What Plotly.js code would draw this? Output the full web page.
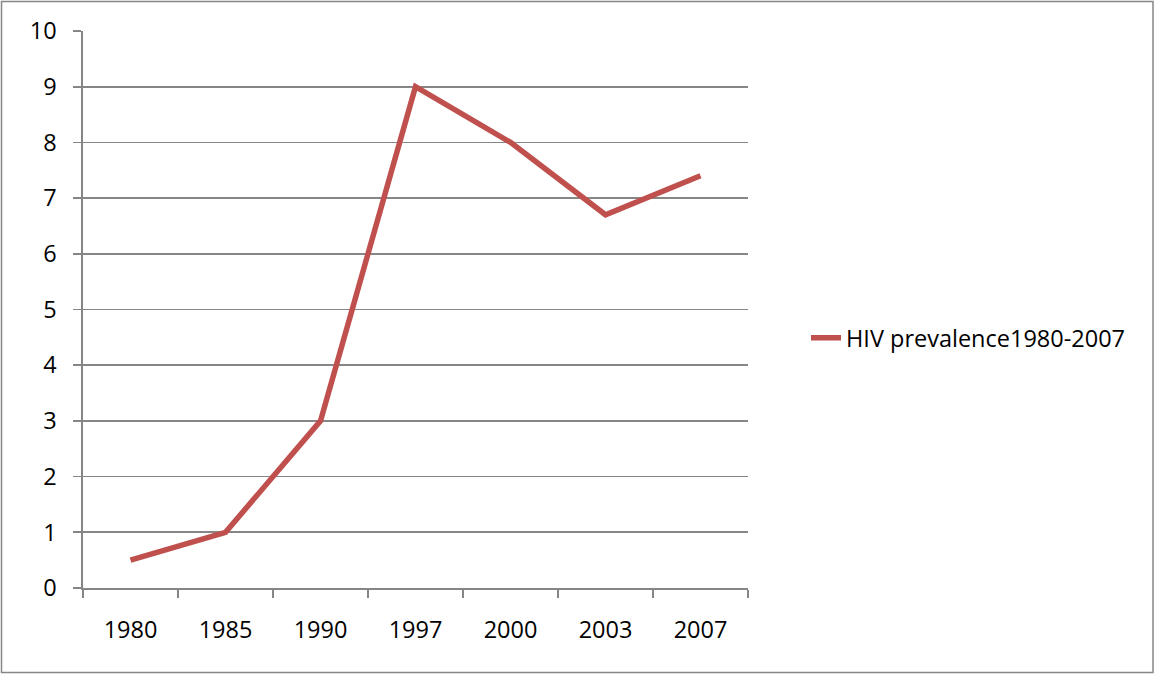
<!DOCTYPE html>
<html>
<head>
<meta charset="utf-8">
<script src="https://cdn.plot.ly/plotly-3.0.1.min.js"></script>
<style>
html,body{margin:0;padding:0;background:#fff;}
#chart{width:1155px;height:674px;}
</style>
</head>
<body>
<div id="chart"></div>
<script>
const years = ["1980", "1985", "1990", "1997", "2000", "2003", "2007"];
const prevalence = [0.5, 1, 3, 9, 8, 6.7, 7.4];
const seriesName = "HIV prevalence1980-2007";

const W = 1155, H = 674;
const L = 83, R = 748, T = 31, B = 588;
const pw = R - L, ph = B - T;
const gray = "#868686";
const font = {family: "Open Sans, Noto Sans, sans-serif", size: 23.5, color: "#000"};

const trace = {
  x: years,
  y: prevalence,
  type: "scatter",
  mode: "lines",
  name: seriesName,
  line: {color: "#C0504D", width: 5.5},
  hoverinfo: "x+y"
};

const layout = {
  width: W,
  height: H,
  margin: {l: L, r: W - R, t: T, b: H - B, pad: 0},
  paper_bgcolor: "#fff",
  plot_bgcolor: "#fff",
  font: font,
  showlegend: true,
  legend: {
    x: (806 - L) / pw,
    y: (B - 338) / ph,
    xanchor: "left",
    yanchor: "middle",
    font: {family: font.family, size: 23.5, color: "#000"},
    itemwidth: 30,
    bgcolor: "rgba(0,0,0,0)"
  },
  xaxis: {
    type: "category",
    range: [-0.5, 6.5],
    showgrid: false,
    showline: true,
    linecolor: gray,
    linewidth: 1.6,
    ticks: "outside",
    tickson: "boundaries",
    ticklen: 8,
    tickwidth: 1.6,
    tickcolor: gray,
    ticklabelstandoff: 20,
    tickfont: font,
    zeroline: false,
    fixedrange: true
  },
  yaxis: {
    range: [0, 10],
    dtick: 1,
    tick0: 0,
    showgrid: true,
    gridcolor: gray,
    gridwidth: 1.6,
    showline: true,
    linecolor: gray,
    linewidth: 1.6,
    ticks: "outside",
    ticklen: 8,
    tickwidth: 1.6,
    tickcolor: gray,
    ticklabelstandoff: 12,
    tickfont: font,
    zeroline: false,
    fixedrange: true
  },
  shapes: [{
    type: "rect",
    xref: "paper", yref: "paper",
    x0: (1.5 - L) / pw, x1: (1153 - L) / pw,
    y0: (B - 672.5) / ph, y1: (B - 1.5) / ph,
    line: {color: gray, width: 1.5},
    fillcolor: "rgba(0,0,0,0)",
    layer: "below"
  }]
};

Plotly.newPlot("chart", [trace], layout, {displayModeBar: false, staticPlot: true});
</script>
</body>
</html>
